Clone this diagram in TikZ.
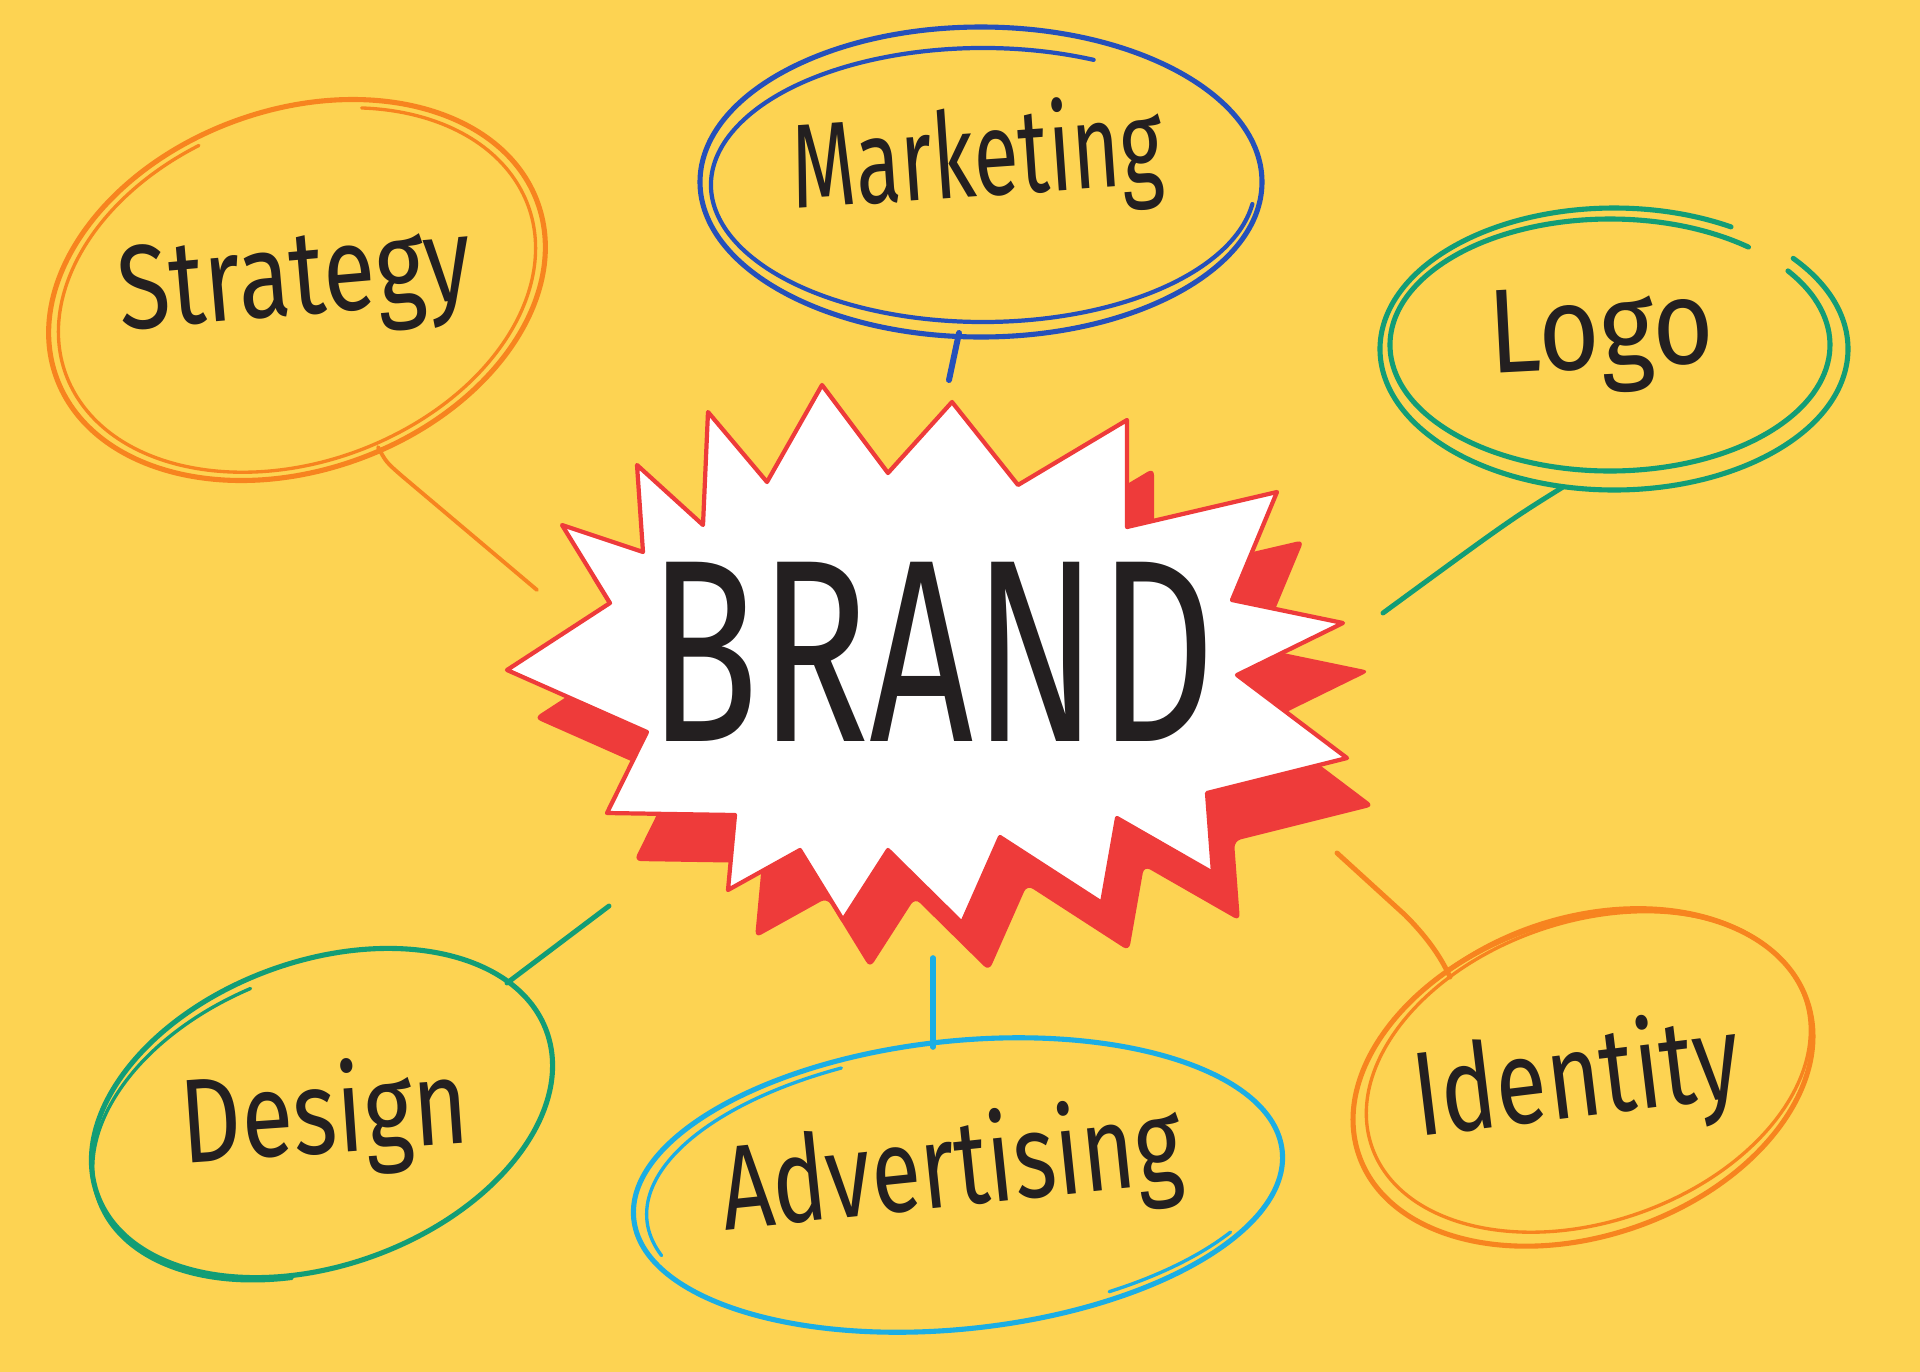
\documentclass[tikz,border=0pt]{standalone}
\usepackage{fontspec}
\setmainfont{Fira Sans}
\usepackage{graphicx}
\definecolor{bgyel}{HTML}{FDD352}
\definecolor{orng}{HTML}{F7841F}
\definecolor{blu}{HTML}{2550BA}
\definecolor{tealg}{HTML}{129D76}
\definecolor{skyb}{HTML}{1BAEE4}
\definecolor{bred}{HTML}{EE3B3A}
\definecolor{ink}{HTML}{231F20}
\tikzset{
  loopline/.style={line width=1.45pt, line cap=round, line join=round},
  thinloop/.style={line width=0.95pt, line cap=round},
  conn/.style={line width=1.4pt, line cap=round, line join=round},
  lbl/.style={font=\fontsize{34}{40}\selectfont, text=ink, inner sep=0pt, anchor=base},
  burstpath/.style={insert path={(507,670) -- (610,603) -- (562,525) -- (643,552) -- (637,465) -- (703,525) -- (708,412) -- (767,482) -- (822,385) -- (888,473) -- (952,402) -- (1018,485) -- (1127,420) -- (1127,527) -- (1277,492) -- (1232,600) -- (1343,623) -- (1237,675) -- (1347,758) -- (1207,793) -- (1213,873) -- (1117,818) -- (1102,903) -- (1000,837) -- (962,923) -- (888,850) -- (843,920) -- (800,850) -- (728,890) -- (735,815) -- (607,813) -- (647,732) -- cycle}}
}
\begin{document}
\begin{tikzpicture}[x=0.01cm, y=-0.01cm]
\fill[bgyel] (0,0) rectangle (1920,1372);
\useasboundingbox (0,0) rectangle (1920,1372);

% ---------- burst ----------
\fill[bred, rounded corners=2pt, shift={(27,48)}, burstpath];
\draw[bred, line width=1.2pt, line join=round, fill=white, burstpath];
\node[font=\fontsize{74}{80}\selectfont, text=ink, inner sep=0pt, anchor=base] (brand) at (932,741) {\scalebox{0.70}[1]{BRAND}};

% ---------- Strategy ----------
\coordinate (cStrat) at (297,290);
\begin{scope}[shift={(cStrat)}, rotate=20]
  \draw[orng, loopline] (0,0) ellipse [x radius=256, y radius=180];
  \draw[orng, thinloop] (-100:246 and 172) arc[start angle=-100, end angle=-420, x radius=246, y radius=172];
\end{scope}
\node[lbl, rotate=5] (strat) at (298,315) {\scalebox{0.80}[1]{Strategy}};
\coordinate (sA) at (378,447);
\coordinate (sB) at (537,590);
\draw[orng, conn, line width=1.1pt] (sA) .. controls (386,462) .. (402,476) -- (sB);

% ---------- Marketing ----------
\coordinate (cMark) at (981,182);
\begin{scope}[shift={(cMark)}]
  \draw[blu, loopline] (0,0) ellipse [x radius=281, y radius=155];
  \draw[blu, thinloop, line width=1.2pt] ([shift={(2,3)}]-66:272 and 137) arc[start angle=-66, end angle=-352, x radius=272, y radius=137];
\end{scope}
\node[lbl, rotate=4] (mark) at (980,196) {\scalebox{0.69}[1]{Marketing}};
\coordinate (mA) at (959,333);
\coordinate (mB) at (949,380);
\draw[blu, conn, line width=1.7pt] (mA) -- (mB);

% ---------- Logo ----------
\coordinate (cLogo) at (1612,347);
\begin{scope}[shift={(cLogo)}]
  \draw[tealg, loopline] ([shift={(2,2)}]-40:234 and 141) arc[start angle=-40, end angle=300, x radius=234, y radius=141];
  \draw[tealg, loopline] ([shift={(-2,-2)}]-51:220 and 126) arc[start angle=-51, end angle=-396, x radius=220, y radius=126];
\end{scope}
\node[lbl, rotate=3] (logo) at (1603,368) {\scalebox{0.88}[1]{Logo}};
\coordinate (lA) at (1563,487);
\coordinate (lB) at (1383,613);
\draw[tealg, conn] (lA) .. controls (1510,520) .. (lB);

% ---------- Design ----------
\coordinate (cDes) at (322,1113);
\begin{scope}[shift={(cDes)}, rotate=20]
  \draw[tealg, loopline] (0,0) ellipse [x radius=239, y radius=152];
  \draw[tealg, thinloop] ([shift={(-4,6)}]-95:236 and 148) arc[start angle=-95, end angle=-250, x radius=236, y radius=148];
\end{scope}
\node[lbl, rotate=4] (design) at (327,1153) {\scalebox{0.79}[1]{Design}};
\coordinate (dA) at (507,983);
\coordinate (dB) at (609,906);
\draw[tealg, conn] (dA) -- (dB);

% ---------- Advertising ----------
\coordinate (cAdv) at (958,1185);
\begin{scope}[shift={(cAdv)}, rotate=6]
  \draw[skyb, loopline] (0,0) ellipse [x radius=326, y radius=144];
  \draw[skyb, thinloop] ([shift={(5,3)}]-110:318 and 140) arc[start angle=-110, end angle=-195, x radius=318, y radius=140];
  \draw[skyb, thinloop] ([shift={(4,-5)}]35:320 and 140) arc[start angle=35, end angle=65, x radius=320, y radius=140];
\end{scope}
\node[lbl, rotate=6] (adv) at (955,1206) {\scalebox{0.76}[1]{Advertising}};
\coordinate (aA) at (933,1047);
\coordinate (aB) at (933,958);
\draw[skyb, conn, line width=1.6pt] (aA) -- (aB);

% ---------- Identity ----------
\coordinate (cId) at (1583,1078);
\begin{scope}[shift={(cId)}, rotate=19]
  \draw[orng, loopline] (0,0) ellipse [x radius=237, y radius=158];
  \draw[orng, thinloop] ([shift={(7,-4)}]0:229 and 150) arc[start angle=0, end angle=360, x radius=229, y radius=150];
  \draw[orng, thinloop] ([shift={(3,3)}]-115:235 and 163) arc[start angle=-115, end angle=-25, x radius=235, y radius=163];
\end{scope}
\node[lbl, rotate=7] (ident) at (1581,1117) {\scalebox{0.78}[1]{Identity}};
\coordinate (iA) at (1450,977);
\coordinate (iB) at (1337,853);
\draw[orng, conn] (iA) .. controls (1440,955) and (1425,935) .. (1405,915) -- (iB);
\end{tikzpicture}
\end{document}
